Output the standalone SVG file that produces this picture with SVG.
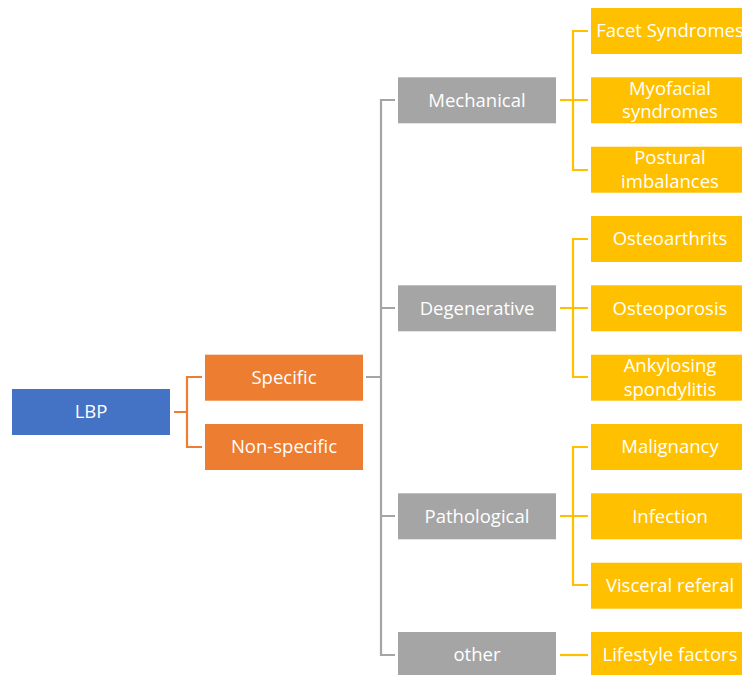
<svg xmlns="http://www.w3.org/2000/svg" width="742" height="675" viewBox="0 0 742 675">
<style>
text{font-family:"Open Sans","Liberation Sans",sans-serif;font-size:18.5px;fill:#ffffff;text-anchor:middle}
.c{fill:none;stroke-width:2.2}
.o{stroke:#ED7D31}.g{stroke:#A5A5A5}.y{stroke:#FFC000}
.blue{fill:#4472C4}.orange{fill:#ED7D31}.gray{fill:#A5A5A5}.yellow{fill:#FFC000}
</style>
<rect width="742" height="675" fill="#ffffff"/>
<g id="connectors">
<path class="c o" d="M174 412H187M202 377H187V447H202"/>
<path class="c g" d="M366 377H381M395 100H381V655H395M381 308H395M381 516H395"/>
<path class="c y" d="M560 100H588M588 31H573V170H588"/>
<path class="c y" d="M560 308H588M588 239H573V377H588"/>
<path class="c y" d="M560 516H588M588 447H573V585H588"/>
<path class="c y" d="M560 655H588"/>
</g>
<g id="lbp"><rect class="blue" x="12" y="389" width="158" height="46"/><text x="91" y="418">LBP</text></g>
<g id="specific"><rect class="orange" x="205" y="354.7" width="158" height="46"/><text x="284" y="384">Specific</text></g>
<g id="nonspecific"><rect class="orange" x="205" y="424" width="158" height="46"/><text x="284" y="453">Non-specific</text></g>
<g id="mechanical"><rect class="gray" x="398" y="77.3" width="158" height="46"/><text x="477" y="106.5">Mechanical</text></g>
<g id="degenerative"><rect class="gray" x="398" y="285.3" width="158" height="46"/><text x="477" y="314.5">Degenerative</text></g>
<g id="pathological"><rect class="gray" x="398" y="493.3" width="158" height="46"/><text x="477" y="522.5">Pathological</text></g>
<g id="other"><rect class="gray" x="398" y="632" width="158" height="46"/><text x="477" y="661">other</text></g>
<g id="facet"><rect class="yellow" x="591" y="8" width="158" height="46"/><text x="670" y="37">Facet Syndromes</text></g>
<g id="myofacial"><rect class="yellow" x="591" y="77.3" width="158" height="46"/><text x="670" y="94.5">Myofacial</text><text x="670" y="118">syndromes</text></g>
<g id="postural"><rect class="yellow" x="591" y="146.7" width="158" height="46"/><text x="670" y="164">Postural</text><text x="670" y="187.5">imbalances</text></g>
<g id="osteoarthrits"><rect class="yellow" x="591" y="216" width="158" height="46"/><text x="670" y="245">Osteoarthrits</text></g>
<g id="osteoporosis"><rect class="yellow" x="591" y="285.3" width="158" height="46"/><text x="670" y="314.5">Osteoporosis</text></g>
<g id="ankylosing"><rect class="yellow" x="591" y="354.7" width="158" height="46"/><text x="670" y="372">Ankylosing</text><text x="670" y="395.5">spondylitis</text></g>
<g id="malignancy"><rect class="yellow" x="591" y="424" width="158" height="46"/><text x="670" y="453">Malignancy</text></g>
<g id="infection"><rect class="yellow" x="591" y="493.3" width="158" height="46"/><text x="670" y="522.5">Infection</text></g>
<g id="visceral"><rect class="yellow" x="591" y="562.7" width="158" height="46"/><text x="670" y="591.5">Visceral referal</text></g>
<g id="lifestyle"><rect class="yellow" x="591" y="632" width="158" height="46"/><text x="670" y="661">Lifestyle factors</text></g>
</svg>
